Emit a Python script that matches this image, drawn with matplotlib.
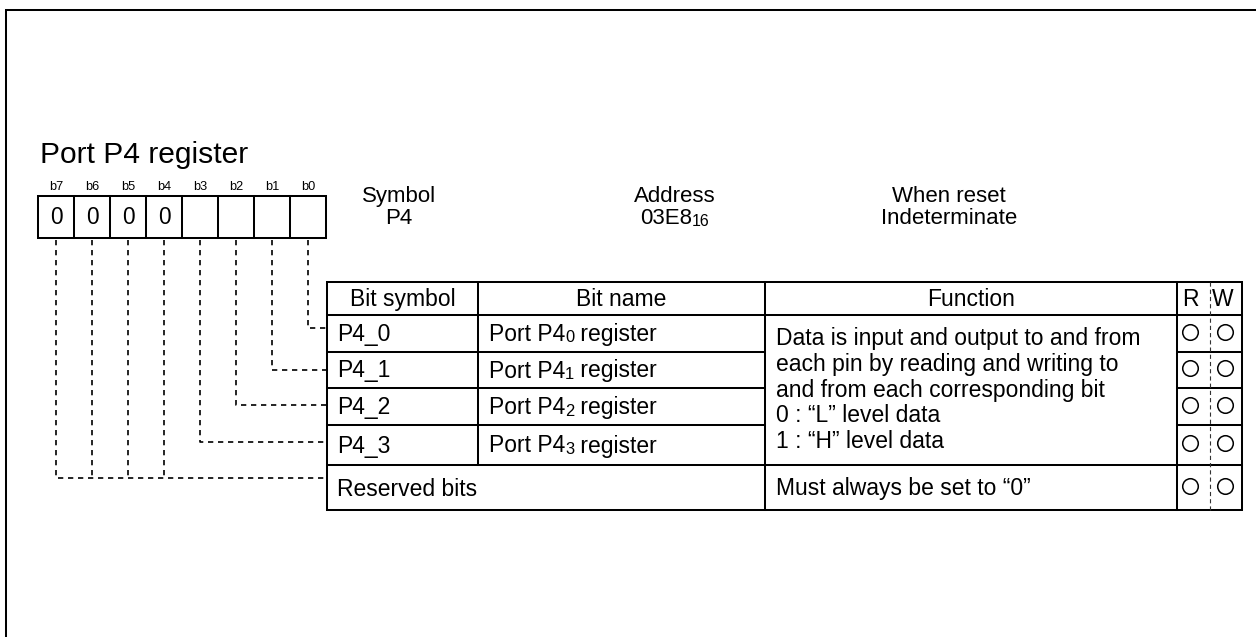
import matplotlib
matplotlib.use("Agg")
import matplotlib.pyplot as plt
from matplotlib.patches import Rectangle

plt.rcParams['font.family'] = ['Liberation Sans', 'DejaVu Sans']
plt.rcParams['lines.scale_dashes'] = False

# ---------------- content ----------------
title = "Port P4 register"
bit_labels = ["b7", "b6", "b5", "b4", "b3", "b2", "b1", "b0"]
reg_values = ["0", "0", "0", "0", "", "", "", ""]
info_titles = ["Symbol", "Address", "When reset"]
# each value: list of (text, is_subscript)
info_values = [[("P4", False)],
               [("03E8", False), ("16", True)],
               [("Indeterminate", False)]]
col_headers = ["Bit symbol", "Bit name", "Function"]
rw_headers = ["R", "W"]
bit_symbols = ["P4_0", "P4_1", "P4_2", "P4_3"]
bit_names = [[("Port P4", False), ("0", True), (" register", False)],
             [("Port P4", False), ("1", True), (" register", False)],
             [("Port P4", False), ("2", True), (" register", False)],
             [("Port P4", False), ("3", True), (" register", False)]]
function_lines = ["Data is input and output to and from",
                  "each pin by reading and writing to",
                  "and from each corresponding bit",
                  "0 : \u201cL\u201d level data",
                  "1 : \u201cH\u201d level data"]
reserved_label = "Reserved bits"
reserved_function = "Must always be set to \u201c0\u201d"
readable = [True, True, True, True, True]
writable = [True, True, True, True, True]

# ---------------- layout (pixels) ----------------
W, H = 1256, 637
fig = plt.figure(figsize=(W / 100, H / 100), dpi=100)
ax = fig.add_axes([0, 0, 1, 1])
ax.set_xlim(0, W)
ax.set_ylim(H, 0)
ax.axis('off')
renderer = fig.canvas.get_renderer()

LW = 1.45
FS = 16.5
SUB = 0.72


def rich_text(x, y, parts, fs, ha='left'):
    """Draw text made of normal and subscript pieces on one baseline."""
    objs = []
    widths = []
    for s, sub in parts:
        size = fs * SUB if sub else fs
        t = ax.text(0, y + (1.5 if sub else 0), s, fontsize=size,
                    ha='left', va='baseline')
        bb = t.get_window_extent(renderer=renderer)
        objs.append(t)
        widths.append(bb.width)
    total = sum(widths)
    start = x - total / 2 if ha == 'center' else x
    for t, w in zip(objs, widths):
        t.set_x(start)
        start += w


# outer frame (open to right / bottom)
ax.plot([6, 6, W + 5], [H + 5, 10, 10], color='black', lw=LW,
        solid_joinstyle='miter')

# title
ax.text(40, 163, title, fontsize=21.6, ha='left', va='baseline')

# register box
reg_left, cell_w, reg_top, reg_bot = 38, 36, 196, 238
n = len(bit_labels)
ax.add_patch(Rectangle((reg_left, reg_top), cell_w * n, reg_bot - reg_top,
                       fill=False, lw=LW, ec='black', joinstyle='miter'))
for i in range(1, n):
    x = reg_left + i * cell_w
    ax.plot([x, x], [reg_top, reg_bot], color='black', lw=LW)
centers = [reg_left + cell_w * (i + 0.5) for i in range(n)]
for cx, lab, val in zip(centers, bit_labels, reg_values):
    ax.text(cx, 190, lab, fontsize=9.2, ha='center', va='baseline')
    if val:
        ax.text(cx, 224, val, fontsize=16.3, ha='center', va='baseline')

# info header
info_x = [399, 675, 949]
IFS = 16.0
for x, t, v in zip(info_x, info_titles, info_values):
    ax.text(x, 202, t, fontsize=IFS, ha='center', va='baseline')
    rich_text(x, 224, v, IFS, ha='center')

# table geometry
tl, tr = 327, 1242
c1, c2, c3 = 478, 765, 1177
rw_mid = 1210
ty = [282, 315, 352, 388, 425, 465, 510]


def seg(xs, ys, **kw):
    ax.plot(xs, ys, color='black', lw=LW, solid_capstyle='projecting', **kw)


ax.add_patch(Rectangle((tl, ty[0]), tr - tl, ty[-1] - ty[0], fill=False,
                       lw=LW, ec='black', joinstyle='miter'))
seg([tl, tr], [ty[1], ty[1]])
seg([tl, tr], [ty[5], ty[5]])
for y in ty[2:5]:
    seg([tl, c2], [y, y])
    seg([c3, tr], [y, y])
seg([c1, c1], [ty[0], ty[5]])
seg([c2, c2], [ty[0], ty[-1]])
seg([c3, c3], [ty[0], ty[-1]])
ax.plot([rw_mid, rw_mid], [ty[0], ty[-1]], color='#333333', lw=0.8,
        linestyle=(0, (3.0, 2.2)))

# headers
hb = 306
ax.text((tl + c1) / 2, hb, col_headers[0], fontsize=FS, ha='center', va='baseline')
ax.text((c1 + c2) / 2, hb, col_headers[1], fontsize=FS, ha='center', va='baseline')
ax.text((c2 + c3) / 2, hb, col_headers[2], fontsize=FS, ha='center', va='baseline')
ax.text(1190, hb, rw_headers[0], fontsize=FS, ha='center', va='baseline')
ax.text(1223, hb, rw_headers[1], fontsize=FS, ha='center', va='baseline')

# rows
row_centers = [(ty[i] + ty[i + 1]) / 2 for i in range(1, 6)]
for yc, sym, name in zip(row_centers[:4], bit_symbols, bit_names):
    ax.text(337, yc + 7.5, sym, fontsize=FS, ha='left', va='baseline')
    rich_text(489, yc + 7.5, name, FS)
ax.text(337, row_centers[4] + 8, reserved_label, fontsize=FS, ha='left', va='baseline')

fl_start, fl_step = 345.5, 25.5
for k, line in enumerate(function_lines):
    ax.text(776, fl_start + k * fl_step, line, fontsize=FS, ha='left', va='baseline')
ax.text(776, row_centers[4] + 8, reserved_function, fontsize=FS, ha='left', va='baseline')

# R / W circles
for yc, r, w in zip(row_centers, readable, writable):
    if r:
        ax.plot([1190], [yc - 2], marker='o', ms=11.2, mfc='none', mec='black', mew=1.1)
    if w:
        ax.plot([1225], [yc - 2], marker='o', ms=11.2, mfc='none', mec='black', mew=1.1)

# dashed connectors
dash = dict(color='black', lw=1.2, linestyle=(0, (3.8, 3.4)))
conn_y = [328, 370, 405, 442]          # b0..b3
top_y = reg_bot + 2
for k, yh in enumerate(conn_y):
    cx = centers[n - 1 - k]
    ax.plot([cx, cx, tl], [top_y, yh, yh], **dash)
res_y = 478
ax.plot([centers[0], centers[0], tl], [top_y, res_y, res_y], **dash)
for cx in centers[1:4]:
    ax.plot([cx, cx], [top_y, res_y], **dash)

fig.savefig("out.png", dpi=100)
